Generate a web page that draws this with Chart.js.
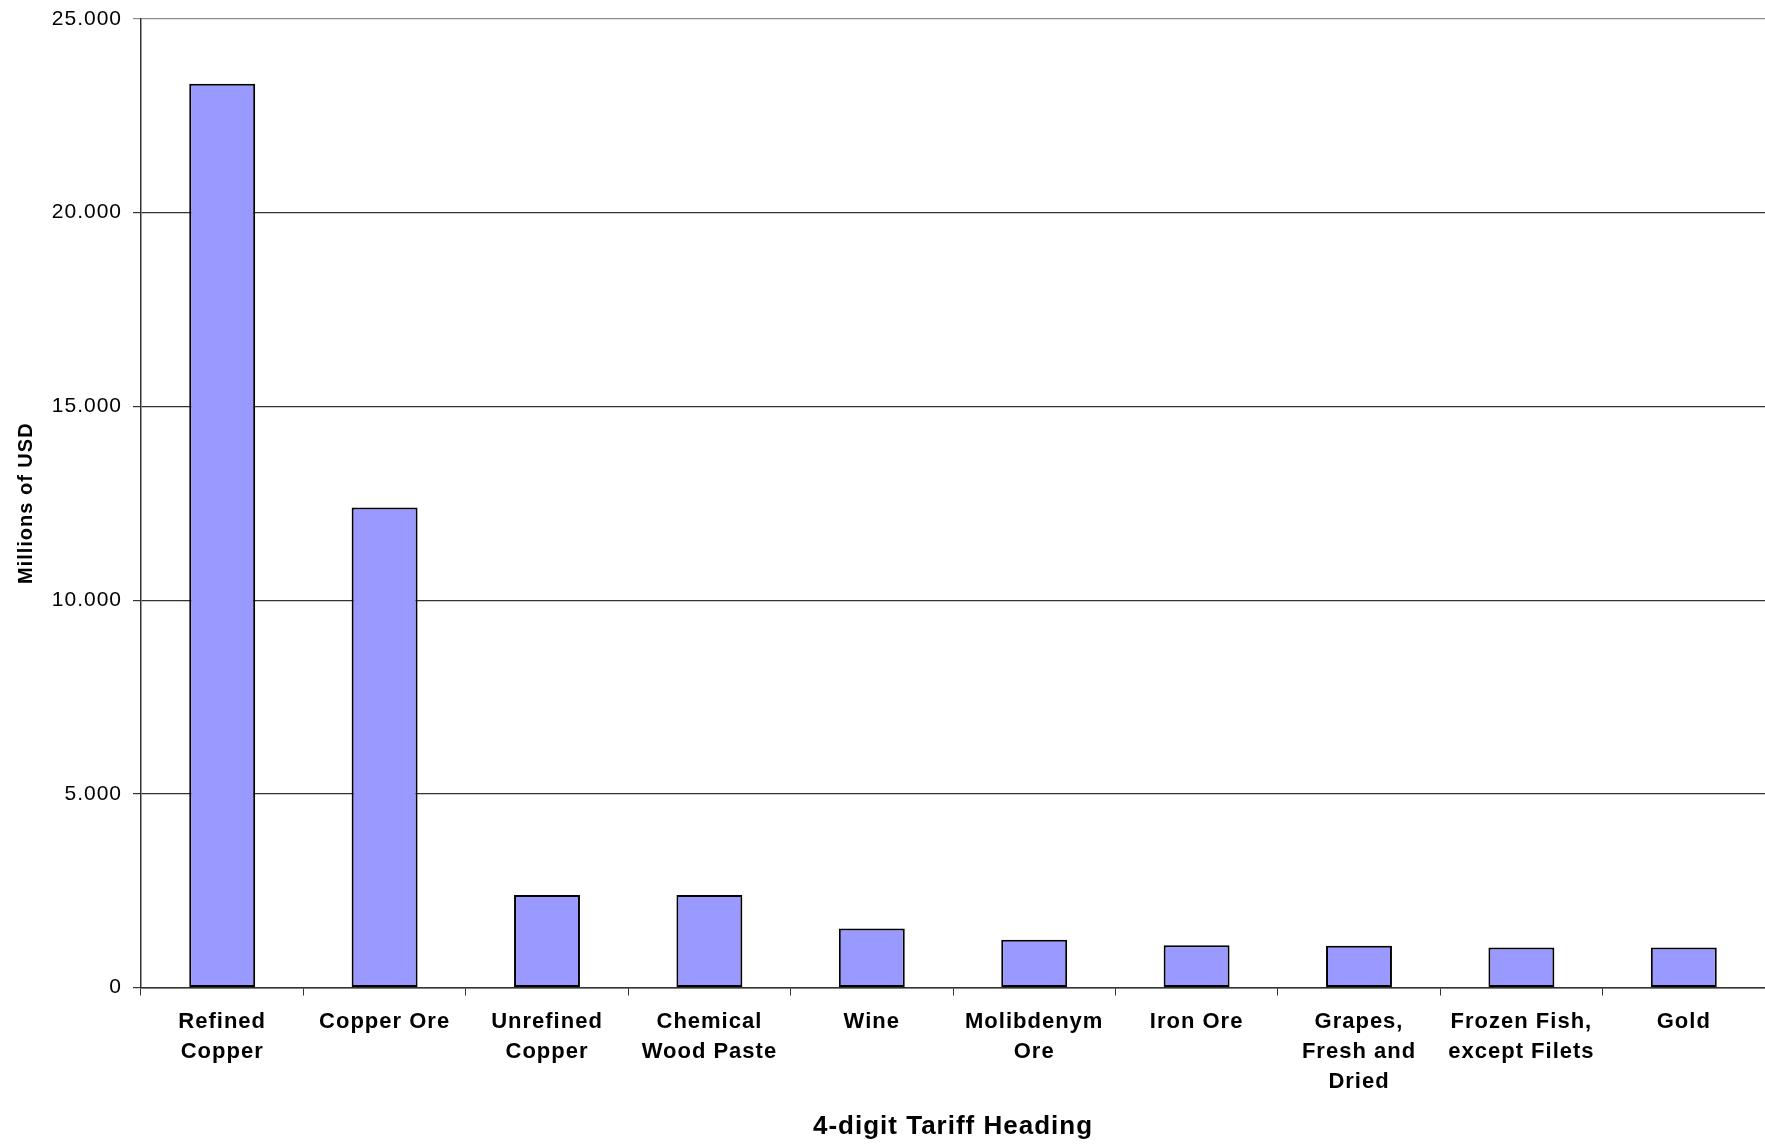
<!DOCTYPE html>
<html>
<head>
<meta charset="utf-8">
<script src="https://cdn.jsdelivr.net/npm/chart.js@4.4.1/dist/chart.umd.min.js"></script>
<style>
    html, body { margin: 0; padding: 0; background: #fff; }
    #wrap { width: 1765px; height: 1146px; position: relative; }
</style>
</head>
<body>
<div id="wrap"><canvas id="chart"></canvas></div>
<script>
// categories (multi-line tick labels, as in the original)
const categories = [
    ["Refined", "Copper"],
    ["Copper Ore"],
    ["Unrefined", "Copper"],
    ["Chemical", "Wood Paste"],
    ["Wine"],
    ["Molibdenym", "Ore"],
    ["Iron Ore"],
    ["Grapes,", "Fresh and", "Dried"],
    ["Frozen Fish,", "except Filets"],
    ["Gold"]
];

// exports, millions of USD
const exportValues = [23330, 12390, 2390, 2390, 1520, 1230, 1090, 1080, 1030, 1030];

const yTicks = [0, 5000, 10000, 15000, 20000, 25000];

const fontFamily = "'Liberation Sans', Arial, sans-serif";

function formatThousands(v) {
    //dot as thousands separator: 25000 -> 25.000
    return String(v).replace(/\B(?=(\d{3})+(?!\d))/g, ".");
}

// the original text is set a little looser than plain Arial
const letterSpacingPlugin = {
    id: "letterSpacing",
    beforeLayout: function (chart) { chart.ctx.letterSpacing = "1px"; },
    beforeDraw: function (chart) { chart.ctx.letterSpacing = "1px"; }
};

new Chart(document.getElementById("chart"), {
    type: "bar",
    plugins: [letterSpacingPlugin],
    data: {
        labels: categories,
        datasets: [{
            data: exportValues,
            backgroundColor: "#9999ff",
            borderColor: "#000000",
            borderWidth: 2,
            borderSkipped: false,
            barPercentage: 0.406,
            categoryPercentage: 1.0
        }]
    },
    options: {
        responsive: true,
        maintainAspectRatio: false,
        animation: false,
        layout: { padding: { top: 19, right: 0, bottom: 0, left: 0 } },
        plugins: {
            legend: { display: false },
            tooltip: { enabled: false }
        },
        scales: {
            x: {
                offset: true,
                grid: {
                    offset: true,
                    drawOnChartArea: false,
                    drawTicks: true,
                    tickLength: 8,
                    color: "#333333"
                },
                border: { display: true, color: "#333333", width: 1.5 },
                ticks: {
                    color: "#000",
                    padding: 11,
                    maxRotation: 0,
                    autoSkip: false,
                    font: { family: fontFamily, size: 22, weight: "bold", lineHeight: 1.38 }
                },
                title: {
                    display: true,
                    text: "4-digit Tariff Heading",
                    color: "#000",
                    font: { family: fontFamily, size: 26, weight: "bold" },
                    padding: { top: 0, bottom: 4 }
                },
                afterFit: function (scale) { scale.height = 158.5; }
            },
            y: {
                min: 0,
                max: 25000,
                afterBuildTicks: function (scale) {
                    scale.ticks = yTicks.map(function (v) { return { value: v }; });
                },
                grid: {
                    drawTicks: true,
                    tickLength: 8,
                    color: function (ctx) {
                        return ctx.tick && ctx.tick.value === 25000 ? "#8c8c8c" : "#333333";
                    },
                    lineWidth: 1.2
                },
                border: { display: true, color: "#333333", width: 1.5 },
                ticks: {
                    color: "#000",
                    padding: 11,
                    font: { family: fontFamily, size: 21 },
                    callback: function (v) { return formatThousands(v); }
                },
                title: {
                    display: true,
                    text: "Millions of USD",
                    color: "#000",
                    font: { family: fontFamily, size: 20, weight: "bold" },
                    padding: { top: 14, bottom: 0 }
                },
                afterFit: function (scale) {
                    scale.width = 141;
                    //let the layout padding alone decide where the plot starts
                    scale.paddingTop = 0;
                    scale.paddingBottom = 0;
                }
            }
        }
    }
});
</script>
</body>
</html>
